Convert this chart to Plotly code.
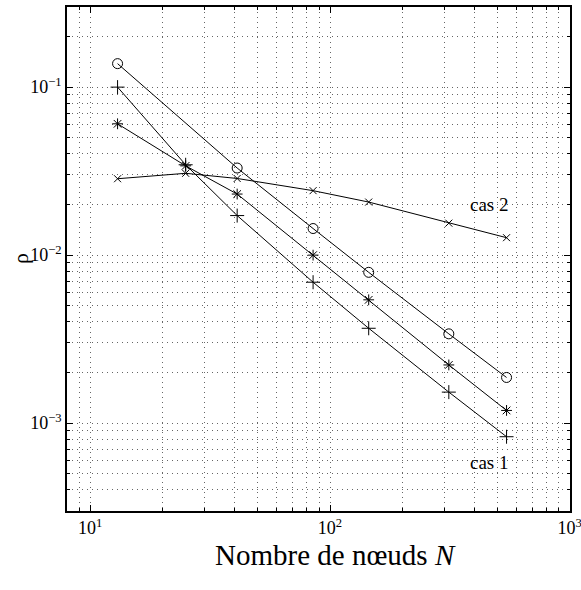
import plotly.graph_objects as go

N_circ = [13, 41, 85, 145, 313, 545]
rho_circ = [0.138, 0.033, 0.0144, 0.0079, 0.0034, 0.00187]

N_plus = [13, 25, 41, 85, 145, 313, 545]
rho_plus = [0.100, 0.0345, 0.0172, 0.0069, 0.00367, 0.00153, 0.00083]

N_star = [13, 25, 41, 85, 145, 313, 545]
rho_star = [0.0605, 0.0340, 0.0231, 0.0100, 0.00542, 0.00222, 0.00119]

N_x = [13, 25, 41, 85, 145, 313, 545]
rho_x = [0.0285, 0.0307, 0.0286, 0.0242, 0.0207, 0.0155, 0.0127]

x_major = [10, 100, 1000]
x_major_text = ["10<sup>1</sup>", "10<sup>2</sup>", "10<sup>3</sup>"]
y_major = [1e-3, 1e-2, 1e-1]
y_major_text = ["10<sup>−3</sup>", "10<sup>−2</sup>", "10<sup>−1</sup>"]

x_minor = [8, 9] + [d * 10 for d in range(2, 10)] + [d * 100 for d in range(2, 10)]
y_minor = [d * 1e-4 for d in range(3, 10)] + [d * 1e-3 for d in range(2, 10)] + \
          [d * 1e-2 for d in range(2, 10)] + [0.2, 0.3]

FONT = "Liberation Serif, Times New Roman, serif"
GRID = dict(gridcolor="#666", griddash="1px,4px", gridwidth=1)

fig = go.Figure()
series = [
    (N_circ, rho_circ, "circle-open", 10),
    (N_plus, rho_plus, "cross-thin-open", 10),
    (N_star, rho_star, "asterisk-open", 9),
    (N_x, rho_x, "x-thin-open", 7),
]
for xs, ys, sym, sz in series:
    fig.add_trace(go.Scatter(
        x=xs, y=ys, mode="lines+markers",
        line=dict(color="black", width=1),
        marker=dict(symbol=sym, size=sz, color="black",
                    line=dict(color="black", width=1)),
        showlegend=False,
    ))

fig.add_annotation(x=2.667, y=-1.70, xref="x", yref="y", text="cas 2",
                   showarrow=False, font=dict(family=FONT, size=19, color="black"))
fig.add_annotation(x=2.667, y=-3.234, xref="x", yref="y", text="cas 1",
                   showarrow=False, font=dict(family=FONT, size=19, color="black"))
fig.add_annotation(x=0, y=0.5, xref="paper", yref="paper", xshift=-47,
                   xanchor="center", yanchor="middle",
                   text="ρ", textangle=-90, showarrow=False,
                   font=dict(family=FONT, size=22, color="black"))
fig.add_annotation(x=0.533, y=0, xref="paper", yref="paper", yshift=-44,
                   xanchor="center", yanchor="middle",
                   text="Nombre de nœuds <i>N</i>", showarrow=False,
                   font=dict(family=FONT, size=29, color="black"))

axis_common = dict(
    showline=True, linecolor="black", linewidth=1.5, mirror="ticks",
    ticks="inside", ticklen=6, tickcolor="black", tickwidth=1,
    showgrid=True, zeroline=False, ticklabeloverflow="allow",
    automargin=False,
    tickfont=dict(family=FONT, size=18, color="black"),
    **GRID,
)

fig.update_xaxes(
    type="log", range=[0.903, 3.001],
    tickmode="array", tickvals=x_major, ticktext=x_major_text,
    minor=dict(tickmode="array", tickvals=x_minor, ticks="inside", ticklen=3,
               tickcolor="black", showgrid=True, **GRID),
    **axis_common,
)
fig.update_yaxes(
    type="log", range=[-3.523, -0.523],
    tickmode="array", tickvals=y_major, ticktext=y_major_text,
    minor=dict(tickmode="array", tickvals=y_minor, ticks="inside", ticklen=3,
               tickcolor="black", showgrid=True, **GRID),
    **axis_common,
)

fig.update_layout(
    width=581, height=590,
    margin=dict(l=67, r=11, t=7, b=79),
    plot_bgcolor="white", paper_bgcolor="white",
)

fig.write_html("out.html")
